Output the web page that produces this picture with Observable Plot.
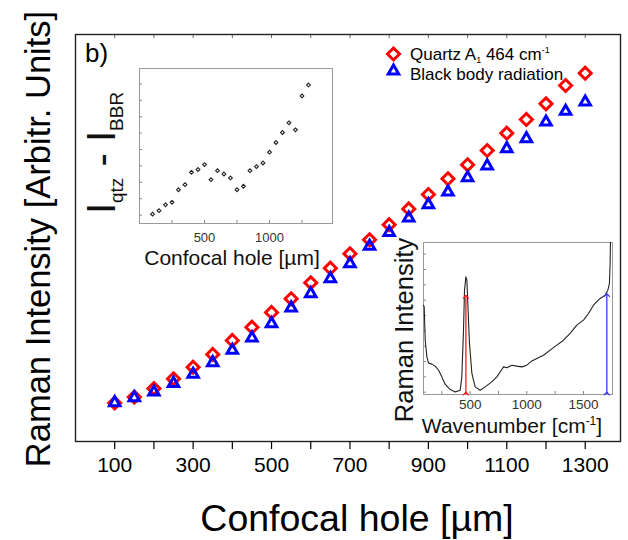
<!DOCTYPE html>
<html><head><meta charset="utf-8">
<script src="https://cdn.jsdelivr.net/npm/d3@7"></script>
<script src="https://cdn.jsdelivr.net/npm/@observablehq/plot@0.6"></script>
<style>
body{margin:0;background:#fff;}
#wrap{position:relative;width:628px;height:540px;overflow:hidden;}
#wrap svg{position:absolute;overflow:visible;}
text{white-space:pre;}
</style></head><body><div id="wrap"></div>
<script>
// ---- main chart data ----
const holes = [100,150,200,250,300,350,400,450,500,550,600,650,700,750,800,850,900,950,1000,1050,1100,1150,1200,1250,1300];
const quartz = [9.46,10.93,13.02,15.41,18.26,21.38,24.82,28.08,31.70,35.06,38.99,42.58,46.12,49.56,53.27,57.13,60.69,64.55,67.99,71.50,75.75,79.12,82.97,87.47,90.49];
const bbr = [9.55,10.78,12.18,14.27,16.53,19.38,22.43,25.45,28.96,32.82,36.33,40.02,43.70,47.98,51.37,54.93,58.20,61.32,64.83,67.71,71.96,74.42,78.52,81.15,83.43];
const mainLabelTicks = [100,300,500,700,900,1100,1300];
const mainAllTicks = [100,200,300,400,500,600,700,800,900,1000,1100,1200,1300];
// ---- inset 1: I_qtz - I_BBR ----
const diffValues = [1.06,1.27,1.63,1.78,2.55,2.86,3.61,3.78,4.08,3.16,3.71,3.51,3.27,2.55,2.76,3.71,3.96,4.18,4.84,5.43,6.04,6.63,6.20,8.27,8.94];
const inset1XLabels = [500,1000];
const inset1XTicks = [250,500,750,1000,1250];
const inset1YTicks = [1,2,3,4,5,6,7,8,9];
// ---- inset 2: spectrum ----
const specWn = [88,94,103,118,132,162,191,221,250,279,324,368,412,426,441,450,462,471,479,494,515,544,588,632,691,735,779,794,824,868,912,956,1000,1044,1088,1147,1206,1265,1324,1382,1441,1500,1544,1588,1647,1691,1715,1729,1735,1741];
const specInt = [5.67,5.57,3.39,2.30,1.91,1.83,1.70,1.43,1.00,0.52,0.17,0.02,0.13,1.00,4.04,6.65,7.52,7.30,5.78,3.17,1.22,0.35,0.13,0.35,0.67,1.00,1.48,1.65,1.59,1.76,1.70,1.65,1.76,2.04,2.20,2.41,2.74,3.07,3.39,3.83,4.37,4.70,5.13,5.67,6.11,6.33,6.65,7.09,8.39,11];
const inset2XLabels = [500,1000,1500];
const inset2XTicks = [250,500,750,1000,1250,1500];
const inset2YTicks = [0,1,2,3,4,5,6,7,8,9];
const arrowWn = [462, 1706];
const arrowTop = [6.22, 6.33];
const arrowBottom = [-0.09, -0.09];
const arrowColors = ["#ff1a1a", "#3a3aff"];

const FONT = '"Liberation Sans", Arial, sans-serif';
const plain = d => String(d);
const wrap = document.getElementById("wrap");

function richText(svg, {x, y, rotate = 0, anchor = "start", size, fill = "#000"}, parts) {
  const t = d3.select(svg).append("text")
    .attr("transform", `translate(${x},${y}) rotate(${rotate})`)
    .attr("text-anchor", anchor)
    .attr("font-family", FONT).attr("font-size", size).attr("fill", fill);
  let shift = 0;
  for (const [txt, s = size, off = 0] of parts) {
    t.append("tspan").attr("font-size", s).attr("dy", off - shift).text(txt);
    shift = off;
  }
}

// ---------- main plot ----------
const qData = holes.map((h, i) => ({h, v: quartz[i]}));
const bData = holes.map((h, i) => ({h, v: bbr[i]}));
const main = Plot.plot({
  width: 628, height: 540,
  marginLeft: 75, marginRight: 8, marginTop: 34, marginBottom: 99,
  style: {fontFamily: FONT, background: "transparent", color: "#000"},
  x: {domain: [0, 1390]},
  y: {domain: [0, 100], axis: null},
  marks: [
    Plot.frame({stroke: "#222", strokeWidth: 1.4}),
    Plot.axisX({ticks: mainAllTicks, tickSize: 8, tickFormat: () => "", label: null, strokeWidth: 1.2}),
    Plot.axisX({ticks: mainLabelTicks, tickSize: 0, tickPadding: 16, fontSize: 21, tickFormat: plain, label: null}),
    Plot.axisX({anchor: "top", ticks: mainAllTicks, tickSize: -3, tickFormat: () => "", label: null, stroke: "#666"}),
    Plot.dot(qData, {x: "h", y: "v", symbol: "diamond2", r: 5.4, stroke: "#ff0000", strokeWidth: 3}),
    Plot.dot(bData, {x: "h", y: "v", symbol: "triangle2", r: 5, stroke: "#0000ff", strokeWidth: 3}),
    // legend symbols
    Plot.dot([0], {frameAnchor: "top-left", dx: 318, dy: 19.5, symbol: "diamond2", r: 5.4, stroke: "#ff0000", strokeWidth: 3}),
    Plot.dot([0], {frameAnchor: "top-left", dx: 318, dy: 36.5, symbol: "triangle2", r: 5, stroke: "#0000ff", strokeWidth: 3})
  ]
});
wrap.appendChild(main);
richText(main, {x: 85, y: 62, size: 26}, [["b)"]]);
richText(main, {x: 410, y: 59.5, size: 17}, [["Quartz A"], ["1", 9, 3.5], [" 464 cm", 17, 0], ["-1", 9, -7]]);
richText(main, {x: 410, y: 79.5, size: 17}, [["Black body radiation"]]);
richText(main, {x: 357, y: 531, anchor: "middle", size: 37.5}, [["Confocal hole [µm]"]]);
richText(main, {x: 50, y: 239, anchor: "middle", rotate: -90, size: 34.5}, [["Raman Intensity [Arbitr. Units]"]]);

// ---------- inset 1 ----------
const dData = holes.map((h, i) => ({h, d: diffValues[i]}));
const inset1 = Plot.plot({
  width: 260, height: 210,
  marginLeft: 61, marginRight: 6, marginTop: 8, marginBottom: 47,
  style: {fontFamily: FONT, background: "transparent", color: "#333"},
  x: {domain: [0, 1485]},
  y: {domain: [0.49, 9.94]},
  marks: [
    Plot.frame({fill: "white", stroke: "#9a9a9a", strokeWidth: 1}),
    Plot.axisY({ticks: inset1YTicks, tickSize: -3, tickFormat: () => "", label: null, stroke: "#888"}),
    Plot.axisX({ticks: inset1XTicks, tickSize: -3, tickFormat: () => "", label: null, stroke: "#888"}),
    Plot.axisX({ticks: inset1XLabels, tickSize: 0, tickPadding: 9, fontSize: 13, tickFormat: plain, label: null}),
    Plot.dot(dData, {x: "h", y: "d", symbol: "diamond2", r: 1.7, stroke: "#222", strokeWidth: 1.1})
  ]
});
inset1.style.left = "78px"; inset1.style.top = "60px";
wrap.appendChild(inset1);
richText(inset1, {x: 154, y: 205, anchor: "middle", size: 21, fill: "#111"}, [["Confocal hole [µm]"]]);
richText(inset1, {x: 37, y: 93, anchor: "middle", rotate: -90, size: 40, fill: "#111"},
  [["I"], ["qtz", 19, 8], [" - ", 40, 0], ["I"], ["BBR", 19, 8]]);

// ---------- inset 2 ----------
const spec = specWn.map((w, i) => ({w, v: specInt[i]}));
const arrows = arrowWn.map((w, i) => ({w, top: arrowTop[i], bottom: arrowBottom[i], c: arrowColors[i]}));
const inset2 = Plot.plot({
  width: 238, height: 204,
  marginLeft: 33, marginRight: 16, marginTop: 6, marginBottom: 46,
  style: {fontFamily: FONT, background: "transparent", color: "#333"},
  x: {domain: [88, 1756]},
  y: {domain: [-0.15, 9.76]},
  marks: [
    Plot.frame({fill: "white", stroke: "#9a9a9a", strokeWidth: 1}),
    Plot.axisY({ticks: inset2YTicks, tickSize: -3, tickFormat: () => "", label: null, stroke: "#888"}),
    Plot.axisX({ticks: inset2XTicks, tickSize: -3, tickFormat: () => "", label: null, stroke: "#888"}),
    Plot.axisX({ticks: inset2XLabels, tickSize: 0, tickPadding: 5, fontSize: 13.5, tickFormat: plain, label: null}),
    Plot.line(spec, {x: "w", y: "v", stroke: "#222", strokeWidth: 1.1, clip: true}),
    Plot.link(arrows, {x1: "w", x2: "w", y1: "bottom", y2: "top", stroke: d => d.c, strokeWidth: 1.3,
      markerStart: "arrow", markerEnd: "arrow"})
  ]
});
inset2.style.left = "390px"; inset2.style.top = "236px";
wrap.appendChild(inset2);
richText(inset2, {x: 122, y: 197, anchor: "middle", size: 21, fill: "#111"}, [["Wavenumber [cm"], ["-1", 12, -8], ["]", 21, 0]]);
richText(inset2, {x: 23, y: 94, anchor: "middle", rotate: -90, size: 25.5, fill: "#111"}, [["Raman Intensity"]]);
</script></body></html>
